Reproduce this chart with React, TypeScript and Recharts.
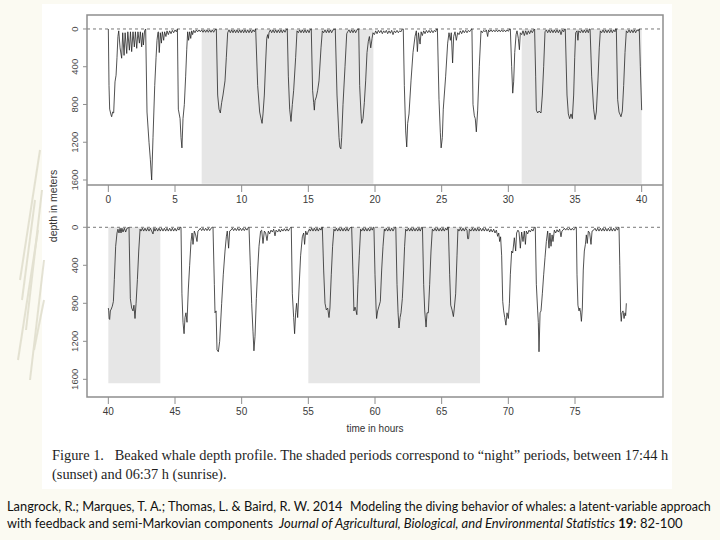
import { useLayoutEffect, useRef, useState } from 'react'
import { LineChart, Line, XAxis, YAxis, ReferenceArea, ReferenceLine } from 'recharts'

// hours of record, ticks
const hourTicksTop = [0, 5, 10, 15, 20, 25, 30, 35, 40]
const hourTicksBottom = [40, 45, 50, 55, 60, 65, 70, 75]
const depthTicks = [0, 400, 800, 1200, 1600]

// night periods (17:44 h - 06:37 h), in hours since start
const nightTop: [number, number][] = [[7.0, 19.88], [31.0, 40]]
const nightBottom: [number, number][] = [[40, 43.9], [55.0, 67.88]]

// depth profile, [hour, depth in m]
const day1Top: [number, number][] = [
  [0, 0], [0.05, 600], [0.1, 850], [0.2, 910], [0.25, 930], [0.32, 880], [0.4, 890], [0.5, 560], [0.58, 490],
  [0.65, 300], [0.72, 80], [0.78, 20], [0.88, 200], [1.0, 310], [1.08, 40], [1.18, 280], [1.26, 40], [1.38, 260],
  [1.46, 30], [1.58, 225], [1.66, 30], [1.75, 240], [1.85, 30], [1.95, 190], [2.03, 30], [2.13, 205], [2.22, 30],
  [2.33, 150], [2.4, 30], [2.5, 190], [2.57, 40], [2.63, 170], [2.72, 20], [2.8, 0], [2.9, 880], [3.05, 1200],
  [3.15, 1380], [3.25, 1600], [3.35, 1150], [3.48, 600], [3.58, 300], [3.65, 120], [3.72, 40], [3.75, 30],
  [3.82, 250], [3.9, 40], [3.98, 150], [4.05, 30], [4.15, 120], [4.22, 30], [4.32, 80], [4.4, 20], [4.5, 60],
  [4.6, 20], [4.7, 50], [4.8, 15], [4.9, 40], [5.0, 10], [5.1, 30], [5.18, 0], [5.25, 850], [5.38, 950],
  [5.45, 1150], [5.52, 1260], [5.6, 950], [5.7, 800], [5.8, 500], [5.88, 220], [5.95, 30], [6.02, 120], [6.1, 30],
  [6.18, 100], [6.25, 20], [6.32, 60], [6.4, 15], [6.5, 40], [6.6, 10], [6.7, 30], [6.8, 10], [6.9, 30], [7.0, 10],
]
const night1Top: [number, number][] = [
  [7.1, 35], [7.2, 10], [7.3, 35], [7.4, 10], [7.5, 35], [7.6, 10], [7.7, 35], [7.8, 10], [7.9, 35], [8.0, 10],
  [8.1, 0], [8.2, 700], [8.3, 850], [8.4, 890], [8.5, 780], [8.6, 700], [8.75, 550], [8.85, 300], [8.95, 40],
  [9.05, 10], [9.15, 40], [9.25, 10], [9.35, 40], [9.45, 10], [9.55, 40], [9.65, 10], [9.75, 40], [9.85, 10],
  [9.95, 40], [10.05, 10], [10.15, 40], [10.25, 10], [10.35, 40], [10.45, 10], [10.55, 40], [10.65, 10],
  [10.75, 40], [10.85, 10], [10.95, 30], [11.05, 0], [11.2, 600], [11.35, 880], [11.45, 950], [11.53, 1000],
  [11.6, 900], [11.7, 700], [11.8, 350], [11.88, 100], [11.95, 60], [12.0, 100], [12.05, 40], [12.15, 10],
  [12.25, 40], [12.35, 10], [12.45, 40], [12.55, 10], [12.65, 40], [12.75, 10], [12.85, 40], [12.95, 10],
  [13.05, 40], [13.15, 10], [13.25, 35], [13.35, 5], [13.42, 0], [13.5, 500], [13.6, 850], [13.7, 980],
  [13.8, 800], [13.9, 650], [14.05, 300], [14.15, 20], [14.25, 40], [14.35, 10], [14.45, 40], [14.55, 10],
  [14.65, 40], [14.75, 10], [14.85, 40], [14.95, 10], [15.05, 40], [15.15, 5], [15.22, 0], [15.32, 650],
  [15.4, 780], [15.45, 860], [15.5, 760], [15.6, 720], [15.7, 650], [15.8, 550], [15.95, 200], [16.05, 20],
  [16.15, 40], [16.25, 10], [16.35, 40], [16.45, 10], [16.55, 40], [16.65, 10], [16.75, 40], [16.85, 10],
  [16.95, 5], [17.02, 0], [17.15, 700], [17.3, 1150], [17.36, 1250], [17.44, 1270], [17.5, 1150], [17.6, 800],
  [17.75, 400], [17.88, 50], [17.95, 30], [18.05, 10], [18.15, 40], [18.25, 10], [18.35, 40], [18.45, 10],
  [18.55, 40], [18.65, 10], [18.72, 0], [18.78, 0], [18.85, 600], [18.95, 900], [19.0, 1000], [19.1, 950],
  [19.2, 780], [19.3, 550], [19.4, 250], [19.5, 130], [19.58, 80], [19.68, 200], [19.78, 100], [19.85, 40],
]
const day2Top: [number, number][] = [
  [19.95, 60], [20.05, 20], [20.15, 50], [20.25, 15], [20.35, 40], [20.45, 15], [20.55, 50], [20.65, 20],
  [20.75, 40], [20.85, 15], [20.95, 50], [21.05, 20], [21.15, 45], [21.25, 15], [21.35, 60], [21.45, 20],
  [21.55, 40], [21.65, 15], [21.75, 40], [21.85, 20], [21.95, 30], [22.05, 0], [22.12, 0], [22.2, 600],
  [22.3, 1080], [22.38, 1250], [22.45, 1000], [22.55, 900], [22.7, 550], [22.85, 250], [23.0, 80], [23.1, 20],
  [23.18, 240], [23.26, 40], [23.38, 160], [23.46, 30], [23.55, 70], [23.65, 20], [23.75, 50], [23.85, 15],
  [23.95, 40], [24.05, 15], [24.15, 40], [24.25, 15], [24.35, 40], [24.45, 15], [24.55, 30], [24.62, 0],
  [24.68, 0], [24.8, 750], [24.9, 1100], [24.96, 1260], [25.05, 1150], [25.12, 850], [25.3, 500], [25.45, 150],
  [25.55, 40], [25.65, 120], [25.72, 40], [25.82, 360], [25.9, 80], [26.0, 30], [26.1, 120], [26.2, 40],
  [26.3, 60], [26.4, 20], [26.5, 50], [26.6, 15], [26.7, 40], [26.8, 15], [26.9, 40], [27.0, 15], [27.1, 30],
  [27.2, 5], [27.27, 0], [27.35, 800], [27.45, 920], [27.52, 950], [27.6, 1090], [27.7, 860], [27.82, 400],
  [27.95, 20], [28.05, 40], [28.15, 15], [28.25, 30], [28.35, 10], [28.45, 80], [28.52, 10], [28.6, 30],
  [28.7, 10], [28.8, 30], [28.9, 10], [29.0, 30], [29.1, 10], [29.2, 30], [29.3, 10], [29.4, 30], [29.5, 10],
  [29.6, 30], [29.7, 10], [29.8, 30], [29.9, 10], [30.0, 25], [30.1, 0], [30.15, 0], [30.25, 400], [30.33, 680],
  [30.4, 560], [30.48, 250], [30.58, 60], [30.65, 20], [30.75, 100], [30.83, 220], [30.9, 40], [31.0, 60],
]
const night2Top: [number, number][] = [
  [31.1, 20], [31.2, 70], [31.3, 20], [31.4, 60], [31.5, 20], [31.6, 50], [31.7, 15], [31.8, 40], [31.9, 10],
  [31.97, 0], [32.05, 500], [32.1, 860], [32.2, 890], [32.3, 870], [32.45, 890], [32.55, 700], [32.65, 400],
  [32.75, 30], [32.85, 10], [32.95, 40], [33.05, 10], [33.15, 40], [33.25, 10], [33.35, 40], [33.45, 10],
  [33.55, 40], [33.65, 10], [33.75, 40], [33.85, 10], [33.95, 60], [34.05, 10], [34.15, 30], [34.22, 0],
  [34.27, 0], [34.4, 700], [34.5, 900], [34.6, 950], [34.7, 900], [34.8, 950], [34.9, 700], [34.98, 300],
  [35.05, 40], [35.15, 20], [35.22, 120], [35.28, 20], [35.4, 40], [35.5, 10], [35.6, 40], [35.7, 10],
  [35.8, 40], [35.9, 10], [36.0, 40], [36.08, 0], [36.13, 0], [36.25, 500], [36.4, 850], [36.5, 960],
  [36.6, 880], [36.72, 550], [36.82, 200], [36.9, 20], [37.0, 40], [37.1, 10], [37.2, 40], [37.3, 10],
  [37.4, 40], [37.5, 10], [37.6, 40], [37.7, 10], [37.8, 40], [37.9, 10], [38.0, 30], [38.05, 0], [38.1, 0],
  [38.2, 750], [38.3, 880], [38.45, 930], [38.55, 870], [38.65, 600], [38.75, 250], [38.85, 20], [38.95, 40],
  [39.05, 10], [39.15, 40], [39.25, 10], [39.35, 40], [39.45, 10], [39.55, 40], [39.65, 10], [39.75, 20],
  [39.82, 0], [39.9, 400], [40.0, 860],
]
const night3Bottom: [number, number][] = [
  [40.0, 850], [40.03, 880], [40.06, 960], [40.1, 970], [40.15, 880], [40.22, 860], [40.3, 830], [40.38, 780],
  [40.45, 550], [40.55, 200], [40.65, 60], [40.72, 20], [40.8, 60], [40.88, 10], [40.95, 60], [41.02, 10],
  [41.1, 50], [41.2, 10], [41.3, 50], [41.4, 10], [41.5, 5], [41.55, 0], [41.65, 750], [41.75, 850],
  [41.85, 880], [41.92, 820], [42.0, 960], [42.08, 800], [42.18, 550], [42.28, 250], [42.38, 20], [42.45, 40],
  [42.55, 10], [42.65, 40], [42.75, 10], [42.85, 40], [42.95, 10], [43.05, 40], [43.15, 10], [43.25, 40],
  [43.35, 70], [43.42, 10], [43.5, 40], [43.6, 10], [43.7, 40], [43.8, 10], [43.9, 40],
]
const day3Bottom: [number, number][] = [
  [44.0, 10], [44.1, 40], [44.2, 10], [44.3, 40], [44.4, 10], [44.5, 40], [44.6, 10], [44.7, 40], [44.8, 10],
  [44.9, 40], [45.0, 10], [45.1, 40], [45.2, 10], [45.3, 30], [45.38, 0], [45.45, 0], [45.52, 700], [45.6, 1000],
  [45.68, 1120], [45.75, 950], [45.82, 900], [45.9, 1000], [46.0, 650], [46.1, 400], [46.2, 150], [46.28, 60],
  [46.35, 180], [46.45, 40], [46.55, 80], [46.65, 150], [46.72, 40], [46.8, 30], [46.9, 10], [47.0, 35],
  [47.1, 10], [47.2, 35], [47.3, 10], [47.4, 35], [47.5, 10], [47.6, 35], [47.7, 10], [47.8, 0], [47.85, 0],
  [47.95, 600], [48.0, 900], [48.08, 880], [48.15, 1290], [48.25, 1310], [48.35, 1200], [48.5, 800], [48.62, 500],
  [48.75, 250], [48.85, 100], [48.92, 40], [49.02, 220], [49.1, 40], [49.2, 30], [49.3, 10], [49.4, 35],
  [49.5, 10], [49.6, 35], [49.7, 10], [49.8, 35], [49.9, 10], [50.0, 35], [50.1, 10], [50.2, 35], [50.3, 10],
  [50.4, 30], [50.5, 0], [50.55, 0], [50.65, 400], [50.75, 800], [50.85, 1100], [50.92, 1300], [51.0, 1150],
  [51.1, 750], [51.2, 450], [51.3, 200], [51.42, 40], [51.5, 30], [51.6, 170], [51.7, 40], [51.8, 60],
  [51.9, 140], [52.0, 40], [52.1, 70], [52.2, 30], [52.3, 50], [52.4, 20], [52.5, 90], [52.58, 30], [52.7, 50],
  [52.8, 20], [52.9, 50], [53.0, 20], [53.1, 40], [53.2, 15], [53.3, 40], [53.4, 15], [53.5, 40], [53.6, 15],
  [53.68, 0], [53.72, 0], [53.8, 700], [53.9, 950], [53.97, 1120], [54.05, 900], [54.12, 800], [54.2, 950],
  [54.3, 650], [54.42, 300], [54.55, 100], [54.65, 60], [54.72, 180], [54.8, 40], [54.9, 80], [55.0, 40],
]
const night4Bottom: [number, number][] = [
  [55.08, 20], [55.15, 40], [55.25, 10], [55.35, 40], [55.45, 10], [55.55, 40], [55.65, 10], [55.75, 40],
  [55.85, 10], [55.95, 30], [56.02, 0], [56.05, 0], [56.15, 450], [56.25, 800], [56.35, 870], [56.45, 850],
  [56.55, 950], [56.62, 850], [56.72, 500], [56.82, 200], [56.92, 20], [57.0, 40], [57.1, 10], [57.2, 40],
  [57.3, 10], [57.4, 40], [57.5, 10], [57.6, 40], [57.7, 10], [57.8, 40], [57.9, 10], [58.0, 40], [58.1, 10],
  [58.2, 0], [58.25, 0], [58.35, 500], [58.42, 880], [58.5, 840], [58.58, 880], [58.64, 920], [58.72, 600],
  [58.82, 300], [58.92, 20], [59.0, 40], [59.1, 10], [59.2, 40], [59.3, 10], [59.4, 40], [59.5, 10], [59.6, 40],
  [59.7, 10], [59.8, 30], [59.87, 0], [59.92, 0], [60.0, 500], [60.08, 850], [60.12, 960], [60.2, 880],
  [60.3, 830], [60.4, 780], [60.5, 450], [60.6, 200], [60.7, 20], [60.75, 40], [60.85, 10], [60.95, 40],
  [61.05, 10], [61.15, 40], [61.25, 10], [61.35, 40], [61.45, 10], [61.52, 0], [61.56, 0], [61.65, 600],
  [61.73, 900], [61.8, 1060], [61.88, 950], [61.95, 900], [62.05, 750], [62.15, 450], [62.22, 200], [62.3, 20],
  [62.4, 40], [62.5, 10], [62.6, 40], [62.7, 10], [62.8, 40], [62.9, 10], [63.0, 40], [63.1, 10], [63.2, 40],
  [63.3, 10], [63.4, 40], [63.5, 0], [63.56, 0], [63.65, 600], [63.73, 880], [63.83, 1050], [63.9, 900],
  [64.0, 900], [64.1, 600], [64.2, 250], [64.3, 20], [64.4, 40], [64.5, 10], [64.6, 40], [64.7, 10], [64.8, 40],
  [64.9, 10], [65.0, 40], [65.1, 10], [65.2, 40], [65.3, 10], [65.4, 30], [65.46, 0], [65.5, 0], [65.6, 500],
  [65.68, 820], [65.78, 870], [65.88, 940], [65.95, 850], [66.05, 700], [66.15, 300], [66.22, 20], [66.3, 40],
  [66.4, 10], [66.5, 40], [66.6, 10], [66.7, 40], [66.8, 10], [66.9, 30], [66.95, 120], [67.02, 120],
  [67.08, 20], [67.2, 40], [67.3, 10], [67.4, 40], [67.5, 10], [67.6, 40], [67.7, 10], [67.8, 40],
]
const day4Bottom: [number, number][] = [
  [67.9, 10], [68.0, 40], [68.1, 10], [68.2, 40], [68.3, 10], [68.4, 40], [68.5, 15], [68.6, 50], [68.7, 20],
  [68.8, 50], [68.9, 20], [69.0, 60], [69.1, 30], [69.2, 95], [69.28, 60], [69.35, 150], [69.42, 100],
  [69.5, 300], [69.58, 780], [69.65, 880], [69.73, 950], [69.82, 1030], [69.9, 900], [70.0, 960], [70.08, 800],
  [70.15, 500], [70.25, 250], [70.33, 270], [70.45, 110], [70.55, 250], [70.62, 60], [70.72, 30], [70.8, 50],
  [70.9, 220], [71.0, 50], [71.1, 150], [71.2, 40], [71.28, 180], [71.35, 40], [71.45, 70], [71.55, 30],
  [71.65, 50], [71.75, 20], [71.85, 40], [71.95, 0], [72.02, 0], [72.1, 600], [72.2, 880], [72.25, 1000],
  [72.3, 1310], [72.38, 900], [72.45, 880], [72.55, 700], [72.65, 500], [72.75, 320], [72.85, 150], [72.95, 40],
  [73.05, 220], [73.12, 60], [73.2, 200], [73.28, 80], [73.35, 150], [73.45, 30], [73.55, 60], [73.65, 25],
  [73.75, 50], [73.85, 20], [73.95, 100], [74.02, 40], [74.1, 30], [74.2, 10], [74.3, 30], [74.4, 10],
  [74.5, 30], [74.6, 10], [74.7, 30], [74.8, 10], [74.9, 30], [75.0, 10], [75.05, 0], [75.1, 0], [75.15, 500],
  [75.22, 820], [75.3, 880], [75.36, 850], [75.42, 900], [75.48, 990], [75.55, 850], [75.62, 450], [75.7, 250],
  [75.78, 180], [75.85, 80], [75.92, 170], [76.0, 40], [76.1, 60], [76.2, 180], [76.28, 40], [76.4, 30],
  [76.5, 10], [76.6, 40], [76.7, 10], [76.8, 40], [76.9, 10], [77.0, 40], [77.1, 10], [77.2, 40], [77.3, 10],
  [77.4, 40], [77.5, 10], [77.6, 40], [77.7, 10], [77.8, 40], [77.9, 10], [78.0, 40], [78.1, 10], [78.2, 30],
  [78.26, 0], [78.3, 0], [78.36, 400], [78.42, 900], [78.47, 990], [78.52, 900], [78.6, 880], [78.68, 960],
  [78.75, 900], [78.8, 930], [78.85, 800],
]

const topRows = [...day1Top, ...night1Top, ...day2Top, ...night2Top].map(([h, d]) => ({ h, d }))
const bottomRows = [...night3Bottom, ...day3Bottom, ...night4Bottom, ...day4Bottom].map(([h, d]) => ({ h, d }))

const captionLine1 = 'Figure 1.   Beaked whale depth profile. The shaded periods correspond to \u201cnight\u201d periods, between 17:44 h'
const captionLine2 = '(sunset) and 06:37 h (sunrise).'

const SANS = '"Liberation Sans", Arial, sans-serif'
const SERIF = '"Liberation Serif", "Times New Roman", serif'
const CITE = 'Lato, "Open Sans", sans-serif'
const FRAME = '#8e8e8e'

const DepthTick = (props: any) => {
  const { x, y, payload } = props
  return (
    <text x={x} y={y} transform={`rotate(-90 ${x} ${y})`} textAnchor="middle"
      fontSize={9.5} fill="#4a4a4a" fontFamily={SANS}>
      {payload.value}
    </text>
  )
}

function Panel({ rows, nights, domainX, ticks, domainY, top, height, xAxisH }: any) {
  return (
    <div style={{ position: 'absolute', left: 0, top: 0 }}>
      <LineChart width={720} height={height} data={rows}
        margin={{ top, right: 57, left: 0, bottom: 0 }}>
        <XAxis type="number" dataKey="h" domain={domainX} ticks={ticks} interval={0}
          allowDataOverflow axisLine={false} tickSize={7} tickMargin={4} height={xAxisH}
          tickLine={{ stroke: FRAME }} tick={{ fontSize: 10, fill: '#3a3a3a', fontFamily: SANS }} />
        <YAxis type="number" dataKey="d" reversed domain={domainY} ticks={depthTicks} interval={0}
          allowDataOverflow axisLine={false} tickSize={4} tickMargin={5} width={87}
          tickLine={{ stroke: FRAME }} tick={<DepthTick />} />
        {nights.map(([a, b]: [number, number]) => (
          <ReferenceArea key={a} x1={a} x2={b} y1={0} y2={1640} fill="#e6e6e6" fillOpacity={1} stroke="none" />
        ))}
        <ReferenceLine y={0} stroke="#777" strokeDasharray="3 3" strokeWidth={1} />
        <Line type="linear" dataKey="d" stroke="#262626" strokeWidth={0.8} dot={false} isAnimationActive={false} />
      </LineChart>
    </div>
  )
}

// squeezes a text horizontally so that it spans the given width
function FitText({ x, y, width, children, ...rest }: any) {
  const ref = useRef<SVGTextElement>(null)
  const [sx, setSx] = useState(1)
  useLayoutEffect(() => {
    const w = ref.current ? ref.current.getComputedTextLength() : 0
    if (w > 0) setSx(width / w)
  }, [width])
  return (
    <g transform={`translate(${x} 0) scale(${sx} 1)`}>
      <text ref={ref} x={0} y={y} {...rest}>{children}</text>
    </g>
  )
}

// caption: both lines share the narrowing of the first line
function Caption() {
  const ref = useRef<SVGTextElement>(null)
  const [sx, setSx] = useState(0.85)
  useLayoutEffect(() => {
    const w = ref.current ? ref.current.getComputedTextLength() : 0
    if (w > 0) setSx(616 / w)
  }, [])
  return (
    <g transform={`translate(52 0) scale(${sx} 1)`}>
      <text ref={ref} x={0} y={460} fontSize={15} fill="#1e1e1e" fontFamily={SERIF} style={{ whiteSpace: 'pre' }}>
        {captionLine1}
      </text>
      <text x={0} y={479} fontSize={15} fill="#1e1e1e" fontFamily={SERIF}>{captionLine2}</text>
    </g>
  )
}

export default function App() {
  return (
    <div style={{ position: 'absolute', left: 0, top: 0, width: 720, height: 540, background: '#fbfaf2', overflow: 'hidden' }}>
      <svg width={720} height={540} style={{ position: 'absolute', left: 0, top: 0 }}>
        <rect x={42} y={4} width={630} height={485} fill="#ffffff" />
        <g stroke="#dedcca" strokeWidth={2} opacity={0.8}>
          <line x1={20} y1={280} x2={40} y2={150} />
          <line x1={26} y1={330} x2={42} y2={190} />
          <line x1={18} y1={360} x2={38} y2={230} />
          <line x1={30} y1={380} x2={44} y2={260} />
          <line x1={22} y1={300} x2={35} y2={200} />
          <line x1={34} y1={350} x2={44} y2={300} />
        </g>
        <text x={57} y={206} transform="rotate(-90 57 206)" textAnchor="middle" fontSize={10.5} fill="#333" fontFamily={SANS}>
          depth in meters
        </text>
        <text x={375} y={432} textAnchor="middle" fontSize={10} fill="#333" fontFamily={SANS}>time in hours</text>
        <Caption />
        <FitText x={7} y={511} width={336} fontSize={13} fill="#111" fontFamily={CITE}>
          Langrock, R.; Marques, T. A.; Thomas, L. &amp; Baird, R. W. 2014
        </FitText>
        <FitText x={350} y={511} width={361} fontSize={13} fill="#111" fontFamily={CITE}>
          Modeling the diving behavior of whales: a latent-variable approach
        </FitText>
        <FitText x={7} y={528} width={266} fontSize={13} fill="#111" fontFamily={CITE}>
          with feedback and semi-Markovian components
        </FitText>
        <FitText x={279} y={528} width={404} fontSize={13} fill="#111" fontFamily={CITE} style={{ whiteSpace: 'pre' }}>
          <tspan fontStyle="italic">Journal of Agricultural, Biological, and Environmental Statistics</tspan>
          {' '}
          <tspan fontWeight="bold">19</tspan>
          {': 82-100'}
        </FitText>
      </svg>
      <Panel rows={topRows} nights={nightTop} domainX={[-1.6, 41.6]} ticks={hourTicksTop}
        domainY={[-148, 1653]} top={15} height={215} xAxisH={30} />
      <Panel rows={bottomRows} nights={nightBottom} domainX={[38.4, 81.6]} ticks={hourTicksBottom}
        domainY={[-445, 1786]} top={185} height={430} xAxisH={33} />
      <svg width={720} height={540} style={{ position: 'absolute', left: 0, top: 0, pointerEvents: 'none' }}>
        <rect x={87} y={15} width={576} height={382} fill="none" stroke={FRAME} strokeWidth={1.5} />
        <line x1={87} y1={185} x2={663} y2={185} stroke={FRAME} strokeWidth={1.5} />
      </svg>
    </div>
  )
}
